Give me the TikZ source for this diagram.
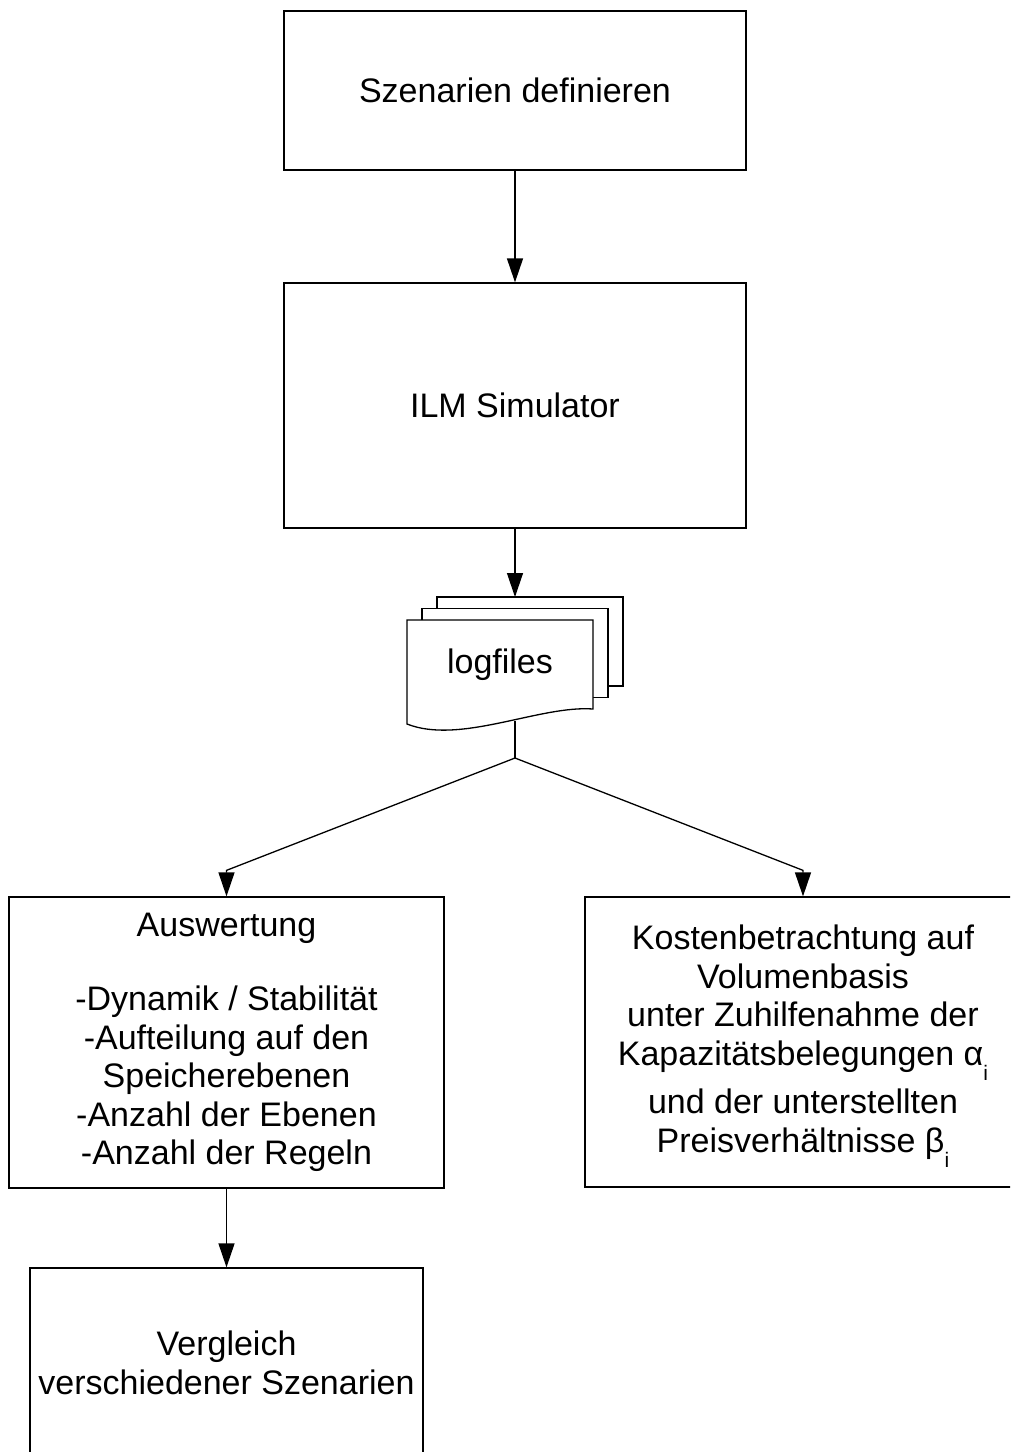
\documentclass[tikz,border=0pt]{standalone}
\usepackage{fontspec}
\setmainfont{Liberation Sans}
\usetikzlibrary{arrows.meta}
\newcommand{\lowi}{\raisebox{-15pt}[0pt][0pt]{\fontsize{21}{21}\selectfont i}}

\begin{document}
\begin{tikzpicture}[x=1pt, y=-1pt]

    \tikzset{%
        box/.style={draw, line width=1.3pt, align=center, inner sep=0pt,
                font=\fontsize{34}{38.5}\selectfont},
        txt/.style={align=center, inner sep=0pt, font=\fontsize{34}{38.5}\selectfont},
        flow/.style={line width=1.3pt, -{Triangle[length=24pt, width=16pt]}},
    }

    \useasboundingbox (0, 0) rectangle (1010, 1452);
    \clip (0, 0) rectangle (1010, 1452);

    \node [box, minimum width=462pt, minimum height=159pt] (define) at (515, 90.5) {Szenarien definieren};
    \node [box, minimum width=462pt, minimum height=245pt] (sim) at (515, 405.5) {ILM Simulator};

    % stack of logfiles
    \foreach \i in {2, 1} {%
            \filldraw [fill=white, line width=1.3pt] ({407+\i*15}, {620-\i*11.5}) rectangle ++(186, 89);
        }
    \filldraw [fill=white, line width=1.3pt] (407, 620) -- (593, 620) -- (593, 709)
        .. controls (540, 705) and (460, 745) .. (407, 724) -- cycle;
    \node [txt] (logfiles) at (500, 665) {logfiles};
    \coordinate (logtop) at (515, 597);
    \coordinate (logfoot) at (515, 721);
    \coordinate (split) at (515, 758);

    \node [box, minimum width=435pt, minimum height=291pt] (eval) at (226.5, 1042.5) {%
        Auswertung\\[36pt]
        -Dynamik / Stabilität\\
        -Aufteilung auf den\\
        Speicherebenen\\
        -Anzahl der Ebenen\\
        -Anzahl der Regeln};
    \node [box, minimum width=436pt, minimum height=290pt] (cost) at (803, 1042) {%
        Kostenbetrachtung auf\\
        Volumenbasis\\
        unter Zuhilfenahme der\\
        Kapazitätsbelegungen α\lowi\\[10pt]
        und der unterstellten\\
        Preisverhältnisse β\lowi};
    \node [box, minimum width=393pt, minimum height=190pt] (compare) at (226.5, 1363) {%
        Vergleich\\
        verschiedener Szenarien};

    \draw [flow] (define) -- (sim);
    \draw [flow] (sim) -- (logtop);
    \draw [line width=1.3pt] (logfoot) -- (split);
    \draw [flow] (split) -- ([yshift=26pt]eval.north) -- (eval);
    \draw [flow] (split) -- ([yshift=26pt]cost.north) -- (cost);
    \draw [flow] (eval) -- (compare);

\end{tikzpicture}
\end{document}
